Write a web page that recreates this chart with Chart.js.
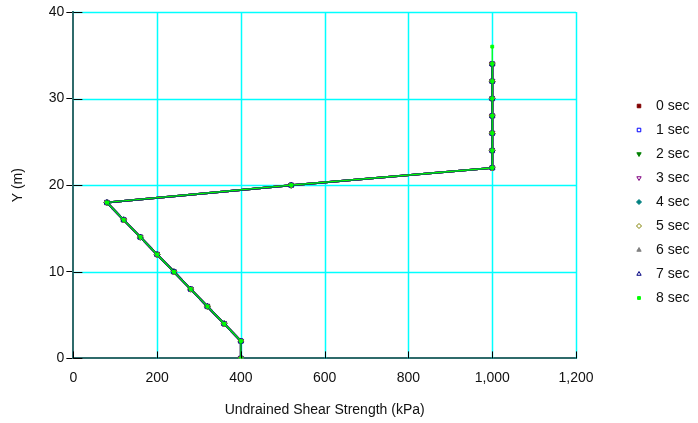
<!DOCTYPE html>
<html>
<head>
<meta charset="utf-8">
<script src="https://cdn.jsdelivr.net/npm/chart.js@4.4.1/dist/chart.umd.min.js"></script>
<style>
html,body{margin:0;padding:0;background:#fff;}
#wrap{width:698px;height:423px;position:relative;}
</style>
</head>
<body>
<div id="wrap"><canvas id="c" width="698" height="423"></canvas></div>
<script>
const seriesLabels = ['0 sec','1 sec','2 sec','3 sec','4 sec','5 sec','6 sec','7 sec','8 sec'];
const depthY = [0,2,4,6,8,10,12,14,16,18,20,22,24,26,28,30,32,34];
const strengthX = [400,400,360,320,280,240,200,160,120,80,520,1000,1000,1000,1000,1000,1000,1000];
const depthY8 = [0,2,4,6,8,10,12,14,16,18,20,22,24,26,28,30,32,34,36];
const strengthX8 = [400,400,360,320,280,240,200,160,120,80,520,1000,1000,1000,1000,1000,1000,1000,1000];
const xTicks = [0,200,400,600,800,1000,1200];
const yTicks = [0,10,20,30,40];

const colors = ['#800000','#0000ff','#008000','#800080','#008080','#808000','#808080','#000080','#00ff00'];
const styles = ['rect','rect','triangle','triangle','rectRot','rectRot','triangle','triangle','rect'];
const rots = [0,0,180,180,0,0,0,0,0];
const filled = [true,false,true,false,true,false,true,false,true];

function pts(xs, ys){ return xs.map((x,i)=>({x:x,y:ys[i]})); }

const datasets = seriesLabels.map((lab,i)=>{
  const last = i===8;
  return {
    label: lab,
    data: last ? pts(strengthX8, depthY8) : pts(strengthX, depthY),
    showLine: true,
    borderColor: colors[i],
    backgroundColor: filled[i] ? colors[i] : '#ffffff',
    borderWidth: last ? 1.2 : 2,
    pointStyle: styles[i],
    rotation: rots[i],
    pointRadius: last ? 2 : 3,
    pointBorderWidth: 1,
    pointBorderColor: colors[i],
    pointBackgroundColor: filled[i] ? colors[i] : '#ffffff',
    order: 8 - i
  };
});

const FONT = '"Liberation Sans", Arial, sans-serif';

const gridPlugin = {
  id:'gridPlugin',
  beforeDatasetsDraw(chart){
    const ctx = chart.ctx;
    const xs = chart.scales.x, ys = chart.scales.y;
    ctx.save();
    ctx.strokeStyle = '#00ffff';
    ctx.lineWidth = 1.5;
    xTicks.forEach(v=>{
      if (v===0) return;
      const px = Math.round(xs.getPixelForValue(v))+0.5;
      ctx.beginPath(); ctx.moveTo(px, ys.top); ctx.lineTo(px, ys.bottom); ctx.stroke();
    });
    yTicks.forEach(v=>{
      if (v===0) return;
      const py = Math.round(ys.getPixelForValue(v))+0.5;
      ctx.beginPath(); ctx.moveTo(xs.left, py); ctx.lineTo(xs.right, py); ctx.stroke();
    });
    ctx.restore();
  },
  afterDraw(chart){
    const ctx = chart.ctx;
    const xs = chart.scales.x, ys = chart.scales.y;
    ctx.save();
    ctx.strokeStyle = '#000';
    ctx.lineWidth = 1;
    yTicks.forEach(v=>{
      const py = Math.round(ys.getPixelForValue(v))+0.5;
      ctx.beginPath(); ctx.moveTo(xs.left, py); ctx.lineTo(xs.left+9, py); ctx.stroke();
    });
    xTicks.forEach(v=>{
      const px = Math.round(xs.getPixelForValue(v))+0.5;
      ctx.beginPath(); ctx.moveTo(px, ys.bottom); ctx.lineTo(px, ys.bottom-7); ctx.stroke();
    });
    // legend
    ctx.font = '14px ' + FONT;
    ctx.textBaseline = 'middle';
    ctx.textAlign = 'left';
    chart.data.datasets.forEach((ds,i)=>{
      const y = 106 + i*24;
      ctx.fillStyle = ds.pointBackgroundColor;
      ctx.strokeStyle = ds.pointBorderColor;
      ctx.lineWidth = 1;
      Chart.helpers.drawPoint(ctx, {pointStyle: ds.pointStyle, rotation: ds.rotation, radius: i===8 ? 2 : 2.5, borderWidth:1}, 639, y);
      ctx.fillStyle = '#111';
      ctx.fillText(ds.label, 656, y);
    });
    ctx.restore();
  }
};

new Chart(document.getElementById('c'), {
  type: 'scatter',
  data: { datasets },
  options: {
    responsive: false,
    animation: false,
    devicePixelRatio: 1,
    layout: { padding: { top: 12, right: 122, bottom: 4, left: 10 } },
    plugins: { legend: { display: false }, tooltip: { enabled: false } },
    scales: {
      x: {
        type: 'linear', min: 0, max: 1200,
        afterBuildTicks(s){ s.ticks = xTicks.map(v=>({value:v})); },
        grid: { drawOnChartArea: false, drawTicks: false },
        border: { color: '#2f6b6b', width: 2 },
        ticks: { color: '#111', font: { size: 14, family: FONT }, padding: 11, maxRotation: 0,
                 callback: v => v.toLocaleString('en-US') },
        title: { display: true, text: 'Undrained Shear Strength (kPa)', color: '#111',
                 font: { size: 14, family: FONT }, padding: { top: 5, bottom: 0 } }
      },
      y: {
        type: 'linear', min: 0, max: 40,
        afterBuildTicks(s){ s.ticks = yTicks.map(v=>({value:v})); },
        grid: { drawOnChartArea: false, tickLength: 7, tickColor: '#000' },
        border: { color: '#2f6b6b', width: 2 },
        ticks: { color: '#111', font: { size: 14, family: FONT }, padding: 2 },
        title: { display: true, text: 'Y (m)', color: '#111',
                 font: { size: 14, family: FONT }, padding: { top: 0, bottom: 20 } }
      }
    }
  },
  plugins: [gridPlugin]
});
</script>
</body>
</html>
